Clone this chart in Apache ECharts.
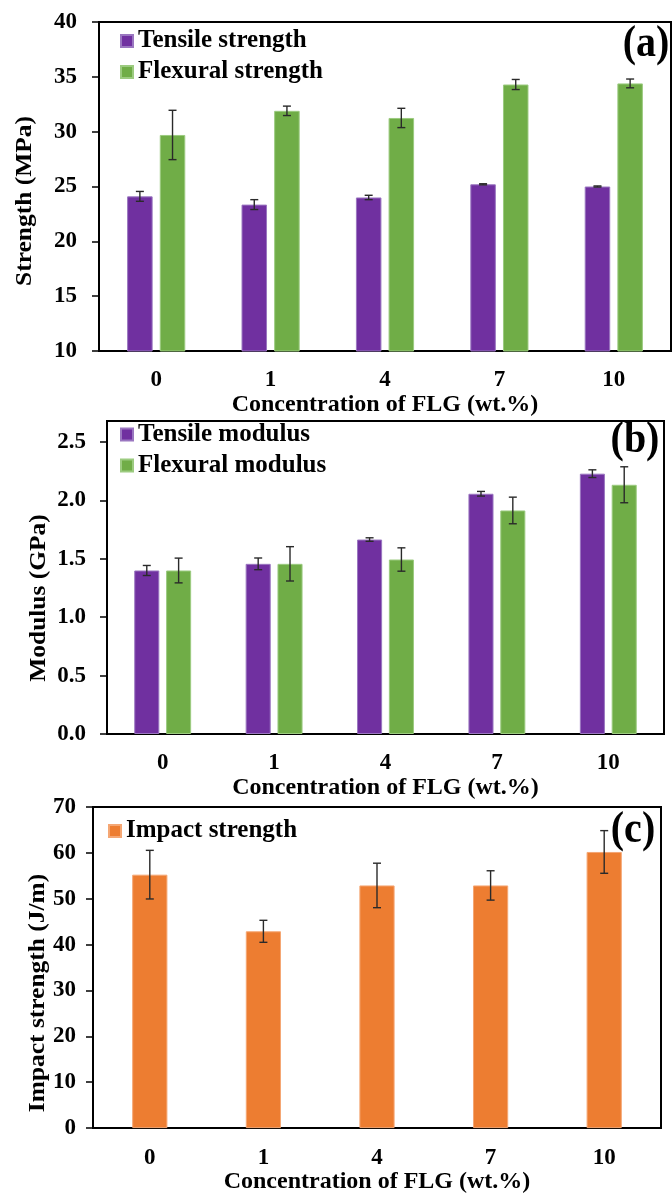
<!DOCTYPE html>
<html><head><meta charset="utf-8">
<script src="https://cdn.jsdelivr.net/npm/echarts/dist/echarts.min.js"></script>
<style>html,body{margin:0;padding:0;background:#fff}#c{width:672px;height:1195px}</style>
</head><body><div id="c"></div>
<script>
// ---- data ----
const categories = ['0', '1', '4', '7', '10'];
const tensileStrength = [24.1, 23.35, 24.0, 25.2, 25.0];
const tensileStrengthErr = [0.45, 0.45, 0.2, 0.05, 0.05];
const flexuralStrength = [29.7, 31.9, 31.25, 34.3, 34.4];
const flexuralStrengthErr = [2.25, 0.43, 0.88, 0.46, 0.4];
const tensileModulus = [1.40, 1.457, 1.665, 2.057, 2.229];
const tensileModulusErr = [0.043, 0.05, 0.015, 0.02, 0.033];
const flexuralModulus = [1.40, 1.457, 1.494, 1.914, 2.134];
const flexuralModulusErr = [0.106, 0.147, 0.1, 0.114, 0.154];
const impactStrength = [55.25, 42.9, 52.9, 52.9, 60.2];
const impactStrengthErr = [5.3, 2.4, 4.85, 3.2, 4.65];
const strengthAxis = { min: 10, max: 40, interval: 5 };
const modulusAxis = { min: 0, max: 2.68, interval: 0.5 };
const impactAxis = { min: 0, max: 70, interval: 10 };
const xName = 'Concentration of FLG (wt.%)';

// ---- styling ----
const FONT = "'Liberation Serif', 'Times New Roman', serif";
const PURPLE = '#7030A0', GREEN = '#70AD47', ORANGE = '#ED7D31';
const chart = echarts.init(document.getElementById('c'), null, { renderer: 'canvas' });

function errRender(frac, gapFrac, side) {
  return function (params, api) {
    const i = api.value(0), v = api.value(1), e = api.value(2);
    const band = api.size([1, 0])[0];
    const bw = band * frac;
    const off = side * (bw + bw * gapFrac) / 2;
    const top = api.coord([i, v + e]);
    const bot = api.coord([i, v - e]);
    const x = top[0] + off, cap = 4;
    const style = { stroke: '#2a2a2a', lineWidth: 1.4 };
    return { type: 'group', children: [
      { type: 'line', shape: { x1: x, y1: top[1], x2: x, y2: bot[1] }, style },
      { type: 'line', shape: { x1: x - cap, y1: top[1], x2: x + cap, y2: top[1] }, style },
      { type: 'line', shape: { x1: x - cap, y1: bot[1], x2: x + cap, y2: bot[1] }, style }
    ] };
  };
}
function errData(vals, errs) { return vals.map((v, i) => [i, v, errs[i]]); }

function xAxisOf(gi, gap) {
  return {
    type: 'category', gridIndex: gi, data: categories,
    axisLine: { lineStyle: { color: '#000', width: 2 } },
    axisTick: { alignWithLabel: true, length: 5, lineStyle: { color: '#000', width: 1.5 } },
    axisLabel: { color: '#000', fontFamily: FONT, fontWeight: 'bold', fontSize: 23, margin: 18 },
    name: xName, nameLocation: 'middle', nameGap: gap,
    nameTextStyle: { color: '#000', fontFamily: FONT, fontWeight: 'bold', fontSize: 24 }
  };
}
function yAxisOf(gi, ax, margin, fmt) {
  return {
    type: 'value', gridIndex: gi, min: ax.min, max: ax.max, interval: ax.interval,
    axisLine: { show: true, lineStyle: { color: '#000', width: 2 } },
    axisTick: { show: true, length: 7, lineStyle: { color: '#000', width: 1.5 } },
    splitLine: { show: false },
    axisLabel: { color: '#000', fontFamily: FONT, fontWeight: 'bold', fontSize: 23, margin: margin,
      showMaxLabel: fmt ? false : true, formatter: fmt || undefined }
  };
}
const legendText = { color: '#000', fontFamily: FONT, fontWeight: 'bold', fontSize: 25, lineHeight: 25 };
function legendOf(names, left, top) {
  return { orient: 'vertical', left: left, top: top, padding: 0, itemGap: 6, itemWidth: 12, itemHeight: 12,
    icon: 'rect', data: names, textStyle: legendText, selectedMode: false };
}
const gridBase = { show: true, borderColor: '#000', borderWidth: 2, backgroundColor: 'transparent' };

function bar(name, data, color, border, xi, width, gap) {
  return { type: 'bar', name: name, data: data, xAxisIndex: xi, yAxisIndex: xi,
    barWidth: width, barGap: gap,
    itemStyle: { color: color, borderColor: border, borderWidth: 1 } };
}
function err(vals, errs, xi, frac, gapFrac, side) {
  return { type: 'custom', xAxisIndex: xi, yAxisIndex: xi, z: 5, silent: true,
    renderItem: errRender(frac, gapFrac, side), encode: { x: 0, y: 1 }, data: errData(vals, errs) };
}
function panelLabel(txt, x, y) {
  return { type: 'text', x: x, y: y, scaleY: 1.1, style: { text: txt, font: 'bold 40px ' + FONT, fill: '#000',
    textAlign: 'center', textVerticalAlign: 'middle' } };
}
function yName(txt, x, y) {
  return { type: 'text', x: x, y: y, rotation: Math.PI / 2, scaleX: 1.06, style: { text: txt, font: 'bold 24px ' + FONT,
    fill: '#000', textAlign: 'center', textVerticalAlign: 'middle' } };
}

const option = {
  animation: false,
  grid: [
    Object.assign({ left: 99, top: 22, width: 572, height: 329 }, gridBase),
    Object.assign({ left: 107, top: 421, width: 557, height: 313 }, gridBase),
    Object.assign({ left: 93, top: 807, width: 568, height: 325 }, gridBase)
  ],
  xAxis: [xAxisOf(0, 38), xAxisOf(1, 35), xAxisOf(2, 38)],
  yAxis: [
    yAxisOf(0, strengthAxis, 22),
    yAxisOf(1, modulusAxis, 21, v => v.toFixed(1)),
    yAxisOf(2, impactAxis, 17)
  ],
  legend: [
    legendOf(['Tensile strength', 'Flexural strength'], 120, 28.5),
    legendOf(['Tensile modulus', 'Flexural modulus'], 120, 422),
    legendOf(['Impact strength'], 108, 818.5)
  ],
  series: [
    bar('Tensile strength', tensileStrength, PURPLE, '#9a76c0', 0, '22.3%', '28%'),
    bar('Flexural strength', flexuralStrength, GREEN, '#9ccb80', 0, '22.3%', '28%'),
    err(tensileStrength, tensileStrengthErr, 0, 0.223, 0.28, -1),
    err(flexuralStrength, flexuralStrengthErr, 0, 0.223, 0.28, 1),
    bar('Tensile modulus', tensileModulus, PURPLE, '#9a76c0', 1, '22.5%', '27%'),
    bar('Flexural modulus', flexuralModulus, GREEN, '#9ccb80', 1, '22.5%', '27%'),
    err(tensileModulus, tensileModulusErr, 1, 0.225, 0.27, -1),
    err(flexuralModulus, flexuralModulusErr, 1, 0.225, 0.27, 1),
    bar('Impact strength', impactStrength, ORANGE, '#f5a774', 2, '31%', '30%'),
    err(impactStrength, impactStrengthErr, 2, 0.31, 0.30, 0)
  ],
  graphic: [
    yName('Strength (MPa)', 25, 201),
    yName('Modulus (GPa)', 38.5, 598),
    yName('Impact strength (J/m)', 38, 993),
    panelLabel('(a)', 646, 45),
    panelLabel('(b)', 635, 441),
    panelLabel('(c)', 633, 831)
  ]
};
chart.setOption(option);
</script></body></html>
